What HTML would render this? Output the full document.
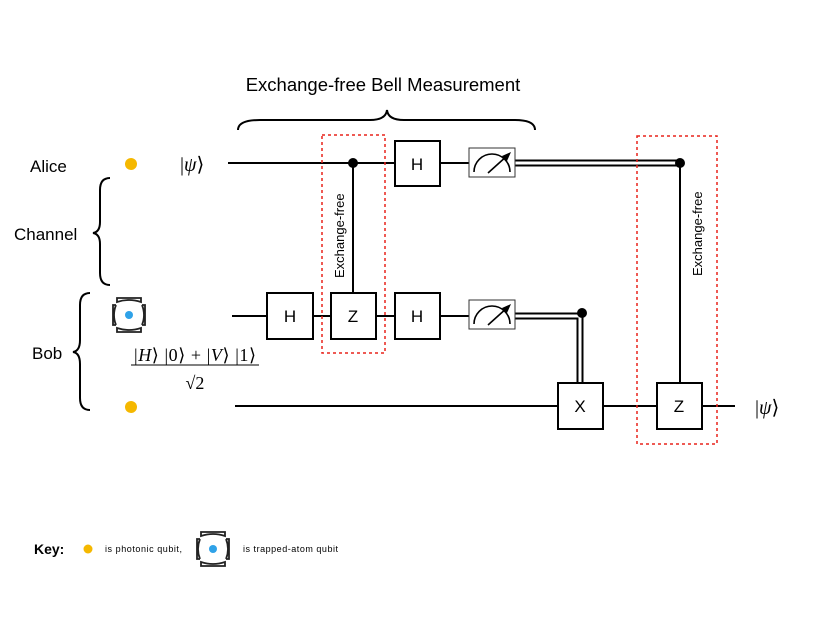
<!DOCTYPE html>
<html><head><style>body{margin:0;background:#fff}svg{display:block}text{font-family:"Liberation Sans",sans-serif}.m{font-family:"Liberation Serif",serif}</style></head><body>
<svg width="830" height="623" viewBox="0 0 830 623" xmlns="http://www.w3.org/2000/svg">
<defs>
<g id="atom"><path d="M-12,-13 Q0,-17 12,-13 L12,-17 L-12,-17Z M-12,13 Q0,17 12,13 L12,17 L-12,17Z" fill="#fff" stroke="#222" stroke-width="1.8"/>
<path d="M-13,-10 Q-17,0 -13,10 M-13,-10 L-16,-10 L-16,10 L-13,10 M13,-10 Q17,0 13,10 M13,-10 L16,-10 L16,10 L13,10" fill="none" stroke="#222" stroke-width="1.8"/>
<circle r="4" fill="#2fa2e8"/></g>
<g id="meter"><rect x="0" y="0" width="46" height="29" fill="#fff" stroke="#333" stroke-width="1"/><path d="M5,24 A18,18 0 0 1 41,24" fill="none" stroke="#000" stroke-width="1.6"/><path d="M19,25 L39,7" stroke="#000" stroke-width="1.6"/><path d="M42,4 L33,8 L38,13Z" fill="#000"/></g>
</defs>
<text x="383" y="91" font-size="18.5" text-anchor="middle">Exchange-free Bell Measurement</text>
<path d="M238,130 Q238,120 260,120 L370,120 Q386,120 387,110 Q388,120 404,120 L515,120 Q535,120 535,130" fill="none" stroke="#000" stroke-width="2"/>
<text x="30" y="172" font-size="17">Alice</text>
<text x="14" y="240" font-size="17">Channel</text>
<text x="32" y="359" font-size="17">Bob</text>
<path d="M110,178 Q100,178 100,190 L100,222 Q100,232 93,233 Q100,234 100,244 L100,273 Q100,285 110,285" fill="none" stroke="#000" stroke-width="2"/>
<path d="M90,293 Q80,293 80,305 L80,340 Q80,351 73,352 Q80,353 80,364 L80,398 Q80,410 90,410" fill="none" stroke="#000" stroke-width="2"/>
<circle cx="131" cy="164" r="6" fill="#f5b800"/>
<circle cx="131" cy="407" r="6" fill="#f5b800"/>
<use href="#atom" x="129" y="315"/>
<text x="180" y="171" font-size="20" class="m">|<tspan font-style="italic">ψ</tspan>⟩</text>
<text x="755" y="414" font-size="20" class="m">|<tspan font-style="italic">ψ</tspan>⟩</text>
<text x="195" y="361" font-size="18" class="m" text-anchor="middle" textLength="122">|<tspan font-style="italic">H</tspan>⟩ |0⟩ + |<tspan font-style="italic">V</tspan>⟩ |1⟩</text>
<line x1="131" y1="365" x2="259" y2="365" stroke="#000" stroke-width="1"/>
<text x="195" y="389" font-size="18" class="m" text-anchor="middle">√2</text>
<g stroke="#000" stroke-width="2" fill="none">
<line x1="228" y1="163" x2="469" y2="163"/>
<line x1="232" y1="316" x2="469" y2="316"/>
<line x1="235" y1="406" x2="735" y2="406"/>
<line x1="353" y1="163" x2="353" y2="293"/>
<line x1="680" y1="163" x2="680" y2="383"/>
<path d="M515,160.5 H680 M515,165.5 H680"/>
<path d="M515,313.5 H582 M515,318.5 H577.5 V383 M582.5,313 V383" />
</g>
<circle cx="353" cy="163" r="5" fill="#000"/>
<circle cx="680" cy="163" r="5" fill="#000"/>
<circle cx="582" cy="313" r="5" fill="#000"/>
<g stroke="#000" stroke-width="2" fill="#fff">
<rect x="395" y="141" width="45" height="45"/>
<rect x="267" y="293" width="46" height="46"/>
<rect x="331" y="293" width="45" height="46"/>
<rect x="395" y="293" width="45" height="46"/>
<rect x="558" y="383" width="45" height="46"/>
<rect x="657" y="383" width="45" height="46"/>
</g>
<g font-size="17" text-anchor="middle">
<text x="417" y="170">H</text><text x="290" y="322">H</text><text x="353" y="322">Z</text><text x="417" y="322">H</text><text x="580" y="412">X</text><text x="679" y="412">Z</text>
</g>
<use href="#meter" x="469" y="148"/>
<use href="#meter" x="469" y="300"/>
<g stroke="#e8231c" stroke-width="1.5" stroke-dasharray="3,3" fill="none">
<rect x="322" y="135" width="63" height="218"/>
<rect x="637" y="136" width="80" height="308"/>
</g>
<text font-size="13" transform="translate(344,278) rotate(-90)">Exchange-free</text>
<text font-size="13" transform="translate(702,276) rotate(-90)">Exchange-free</text>
<text x="34" y="554" font-size="14" font-weight="bold">Key:</text>
<circle cx="88" cy="549" r="4.5" fill="#f5b800"/>
<text x="105" y="552" font-size="9" textLength="77">is photonic qubit,</text>
<use href="#atom" x="213" y="549"/>
<text x="243" y="552" font-size="9" textLength="95">is trapped-atom qubit</text>
</svg>
</body></html>
